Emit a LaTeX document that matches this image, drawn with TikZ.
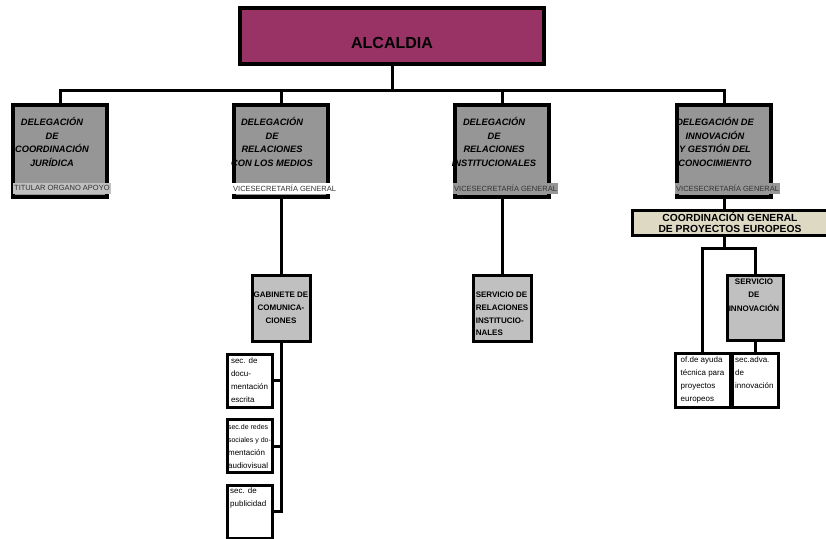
\documentclass[tikz,border=0pt]{standalone}
\usepackage{fontspec}
\setmainfont{Liberation Sans}
\usepackage{xcolor}
\usepackage{tikz}
\usetikzlibrary{calc, positioning}

\definecolor{alcaldia}{HTML}{993366}
\definecolor{delgray}{HTML}{969696}
\definecolor{unitgray}{HTML}{C0C0C0}
\definecolor{coordtan}{HTML}{DDD9C3}

\begin{document}
\begin{tikzpicture}[x=1pt,y=-1pt,-,
                    link/.style={line width=3pt},
                    boss node/.style={draw,line width=4pt,fill=alcaldia,minimum width=304pt,minimum height=56pt},
                    boss text/.style={font=\bfseries\fontsize{16}{19}\selectfont},
                    deleg node/.style={draw,line width=4pt,fill=delgray,minimum width=94pt,minimum height=92pt,inner sep=0pt},
                    deleg text/.style={align=center,font=\bfseries\itshape\fontsize{9.3}{13.5}\selectfont},
                    strip node/.style={anchor=west,inner sep=1pt,minimum height=11pt,font=\fontsize{7.5}{8}\selectfont,text=black!80},
                    unit node/.style={draw,line width=3pt,fill=unitgray,minimum width=58pt,minimum height=66pt,inner sep=1pt,font=\bfseries\fontsize{8}{12.8}\selectfont},
                    sec node/.style={draw,line width=3pt,fill=white,minimum height=53pt,inner sep=1pt,align=left,font=\fontsize{8}{13}\selectfont},
                    sec text/.style={anchor=north west,inner sep=0pt,align=left,font=\fontsize{8}{13}\selectfont}]

  \useasboundingbox (0,0) rectangle (826,538);

  % alcaldia
  \node[boss node] (alc) at (392,36) {};
  \node[boss text] (alct) at (392,43) {ALCALDIA};

  % delegaciones
  \node[deleg node] (d1) at (60,151) {};
  \node[deleg node] (d2) at (281,151) {};
  \node[deleg node] (d3) at (502,151) {};
  \node[deleg node] (d4) at (724,151) {};

  \node[deleg text] (d1t) at (52,142) {DELEGACIÓN\\DE\\COORDINACIÓN\\JURÍDICA};
  \node[deleg text] (d2t) at (272,142) {DELEGACIÓN\\DE\\RELACIONES\\CON LOS MEDIOS};
  \node[deleg text] (d3t) at (494,142) {DELEGACIÓN\\DE\\RELACIONES\\INSTITUCIONALES};
  \node[deleg text] (d4t) at (715,142) {DELEGACIÓN DE\\INNOVACIÓN\\Y GESTIÓN DEL\\CONOCIMIENTO};

  \node[strip node,fill=unitgray,minimum width=93pt] (d1s) at (13,188) {TITULAR ORGANO APOYO};
  \node[strip node,fill=white] (d2s) at (232,188) {VICESECRETARÍA GENERAL};
  \node[strip node,fill=delgray] (d3s) at (453,188) {VICESECRETARÍA GENERAL};
  \node[strip node,fill=delgray] (d4s) at (675,188) {VICESECRETARÍA GENERAL};

  % unidades
  \node[unit node,align=center] (gab) at (281,308) {GABINETE DE\\COMUNICA-\\CIONES};
  \node[unit node] (sri) at (502,308) {};
  \node[align=left,inner sep=0pt,font=\bfseries\fontsize{8}{12.8}\selectfont] (srit) at (502,314) {SERVICIO DE\\RELACIONES\\INSTITUCIO-\\NALES};
  \node[draw,fill=coordtan,line width=3pt,minimum width=196pt,minimum height=25pt,inner sep=1pt,
        align=center,font=\bfseries\fontsize{10.3}{11.5}\selectfont] (coord) at (730,222.5)
        {COORDINACIÓN GENERAL\\DE PROYECTOS EUROPEOS};
  \node[unit node,minimum width=56pt,minimum height=65pt] (inn) at (755,307.5) {};
  \node[align=center,inner sep=0pt,font=\bfseries\fontsize{8}{13.5}\selectfont] (innt) at (754,295) {SERVICIO\\DE\\INNOVACIÓN};

  % secciones
  \node[sec node,minimum width=45pt] (s1) at (249.5,380.5) {sec. de\\docu-\\mentación\\escrita};
  \node[sec node,minimum width=45pt] (s2) at (249.5,446)
        {\fontsize{7}{11.5}\selectfont sec.de redes\\\fontsize{7}{11.5}\selectfont sociales y do-\\\fontsize{8}{13}\selectfont mentación\\\fontsize{8}{13}\selectfont audiovisual};
  \node[sec node,minimum width=45pt] (s3) at (249.5,511.5) {};
  \node[sec text] (s3t) at (230,487) {sec. de\\publicidad};
  \node[sec node,minimum width=55pt,minimum height=54pt] (of) at (702.5,380) {of.de ayuda\\técnica para\\proyectos\\europeos};
  \node[sec node,minimum width=46pt,minimum height=54pt] (adv) at (755,380) {};
  \node[sec text] (advt) at (735,356) {sec.adva.\\de\\innovación};

  % conectores
  \coordinate (bus) at (392,90);
  \coordinate (cbus) at (724,248);

  \draw[link] (alc.south) -- (bus);
  \draw[link] (bus) -| (d1.north);
  \draw[link] (bus) -| (d2.north);
  \draw[link] (bus) -| (d3.north);
  \draw[link] (bus) -| (d4.north);

  \path[link]
    (d2.south) edge (gab.north)
    (d3.south) edge (sri.north)
    (d4.south) edge (d4.south |- coord.north)
    (coord.south -| cbus) edge (cbus)
    (inn.south) edge (adv.north)
    (gab.south |- s1.east) edge (s1.east)
    (gab.south |- s2.east) edge (s2.east);

  \draw[link] (gab.south) |- (s3.east);
  \draw[link] (of.north) |- (cbus) -| (inn.north);

\end{tikzpicture}
\end{document}
